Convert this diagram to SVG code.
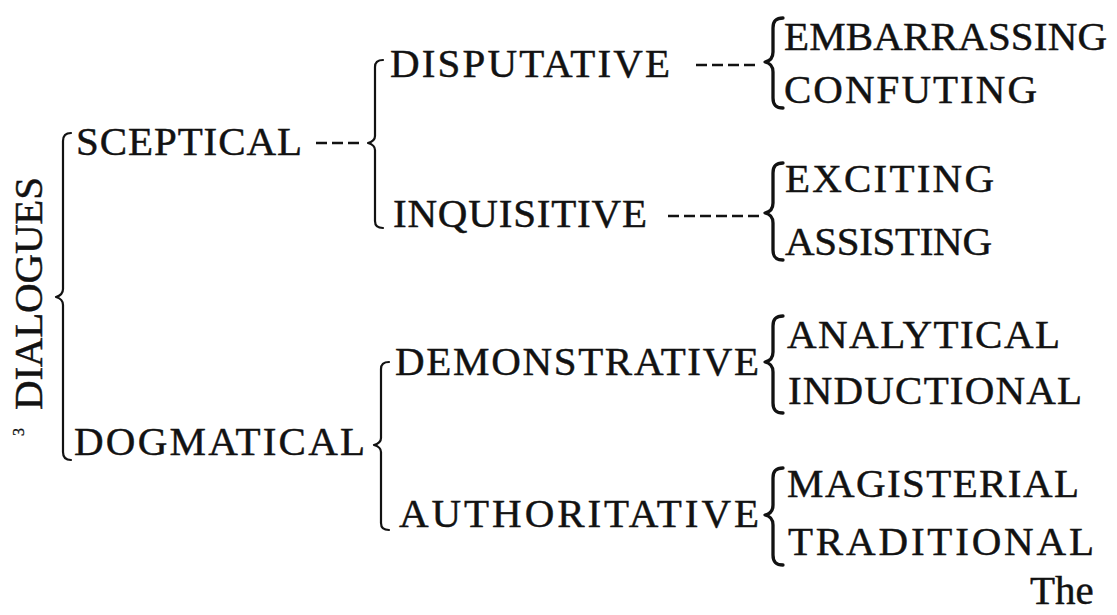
<svg xmlns="http://www.w3.org/2000/svg" width="1117" height="615" viewBox="0 0 1117 615">
  <style>
    text { font-family: "Liberation Serif", "Times New Roman", serif; font-size: 41px; fill: #121212; stroke: #121212; stroke-width: 0.45; }
    .sup { font-size: 16px; stroke-width: 0.3; }
    .brk { fill: none; stroke: #121212; stroke-width: 2.2; stroke-linecap: round; stroke-linejoin: round; }
    .brace { fill: none; stroke: #121212; stroke-width: 3.3; stroke-linecap: round; stroke-linejoin: round; }
    .dash { stroke: #121212; stroke-width: 2.6; stroke-dasharray: 11 5; }
  </style>
  <rect width="1117" height="615" fill="#ffffff"/>

  <!-- connectors: brackets, braces and dashed leaders -->
  <g id="connectors">
    <!-- root bracket -->
    <path class="brk" d="M71,133 Q63,133 63,141 L63,289 Q63,295 56,297 Q63,299 63,305 L63,452 Q63,460 71,460"/>
    <!-- sceptical -->
    <line class="dash" x1="316" y1="143" x2="359" y2="143"/>
    <path class="brk" d="M383,60 Q375,60 375,67 L375,136 Q375,141 368,143 Q375,145 375,150 L375,221 Q375,228 383,228"/>
    <!-- dogmatical -->
    <path class="brk" d="M389,362 Q381,362 381,369 L381,438 Q381,443 374,445 Q381,447 381,452 L381,523 Q381,530 389,530"/>
    <!-- disputative -->
    <line class="dash" x1="696" y1="65" x2="755" y2="65"/>
    <path class="brace" d="M783,18 C776,18 773,21 773,28 L773,52 C773,58 770,61 765,62 C770,63 773,66 773,72 L773,98 C773,105 776,108 783,108"/>
    <!-- inquisitive -->
    <line class="dash" x1="668" y1="216" x2="759" y2="216"/>
    <path class="brace" d="M783,163 C776,163 773,166 773,173 L773,203 C773,209 770,212 765,213 C770,214 773,217 773,223 L773,250 C773,257 776,260 783,260"/>
    <!-- demonstrative -->
    <path class="brace" d="M783,316 C776,316 773,319 773,326 L773,352 C773,358 770,361 765,362 C770,363 773,366 773,372 L773,403 C773,410 776,413 783,413"/>
    <!-- authoritative -->
    <path class="brace" d="M783,468 C776,468 773,471 773,478 L773,505 C773,511 770,514 765,515 C770,516 773,519 773,525 L773,555 C773,562 776,565 783,565"/>
  </g>

  <g id="dialogues">
    <text class="sup" transform="translate(24,436) rotate(-90)">3</text>
    <text transform="translate(42,410) rotate(-90)" textLength="233" lengthAdjust="spacing">DIALOGUES</text>
  </g>

  <g id="sceptical"><text x="76" y="155" textLength="226" lengthAdjust="spacing">SCEPTICAL</text></g>
  <g id="dogmatical"><text x="74" y="455" textLength="291" lengthAdjust="spacing">DOGMATICAL</text></g>

  <g id="disputative"><text x="390" y="77" textLength="280" lengthAdjust="spacing">DISPUTATIVE</text></g>
  <g id="inquisitive"><text x="393" y="227" textLength="254" lengthAdjust="spacing">INQUISITIVE</text></g>
  <g id="demonstrative"><text x="395" y="375" textLength="364" lengthAdjust="spacing">DEMONSTRATIVE</text></g>
  <g id="authoritative"><text x="399" y="527" textLength="360" lengthAdjust="spacing">AUTHORITATIVE</text></g>

  <g id="embarrassing"><text x="784" y="50" textLength="323" lengthAdjust="spacing">EMBARRASSING</text></g>
  <g id="confuting"><text x="784" y="103" textLength="253" lengthAdjust="spacing">CONFUTING</text></g>
  <g id="exciting"><text x="785" y="192" textLength="209" lengthAdjust="spacing">EXCITING</text></g>
  <g id="assisting"><text x="785" y="255" textLength="207" lengthAdjust="spacing">ASSISTING</text></g>
  <g id="analytical"><text x="787" y="348" textLength="273" lengthAdjust="spacing">ANALYTICAL</text></g>
  <g id="inductional"><text x="788" y="404" textLength="294" lengthAdjust="spacing">INDUCTIONAL</text></g>
  <g id="magisterial"><text x="787" y="497" textLength="292" lengthAdjust="spacing">MAGISTERIAL</text></g>
  <g id="traditional"><text x="788" y="555" textLength="306" lengthAdjust="spacing">TRADITIONAL</text></g>

  <g id="catchword"><text x="1030" y="604">The</text></g>
</svg>
